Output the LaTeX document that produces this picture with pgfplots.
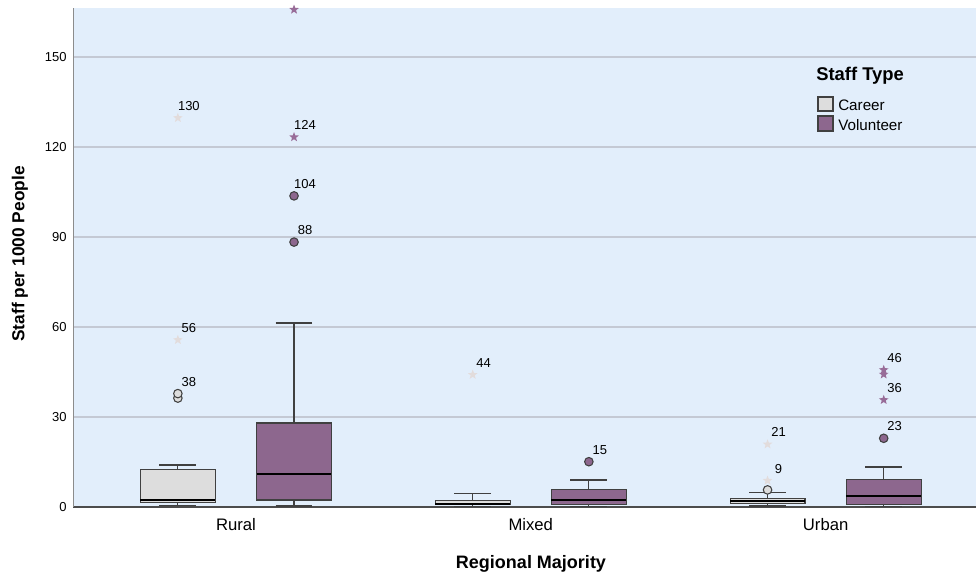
\documentclass[border=0pt]{standalone}
\usepackage{fontspec}
\setmainfont{Liberation Sans}
\usepackage{pgfplots}
\pgfplotsset{compat=1.18}
\usepgfplotslibrary{statistics}
\definecolor{bgblue}{RGB}{226,238,251}
\definecolor{gridcol}{RGB}{196,201,212}
\definecolor{careerfill}{RGB}{221,221,221}
\definecolor{volfill}{RGB}{141,103,142}
\definecolor{edgecol}{RGB}{64,64,64}
\definecolor{careerstar}{RGB}{226,220,220}
\definecolor{volstar}{RGB}{152,108,152}

\pgfdeclareplotmark{fstar}{%
 \pgfpathmoveto{\pgfpointpolar{90}{\pgfplotmarksize}}%
 \pgfpathlineto{\pgfpointpolar{126}{0.42\pgfplotmarksize}}%
 \pgfpathlineto{\pgfpointpolar{162}{\pgfplotmarksize}}%
 \pgfpathlineto{\pgfpointpolar{198}{0.42\pgfplotmarksize}}%
 \pgfpathlineto{\pgfpointpolar{234}{\pgfplotmarksize}}%
 \pgfpathlineto{\pgfpointpolar{270}{0.42\pgfplotmarksize}}%
 \pgfpathlineto{\pgfpointpolar{306}{\pgfplotmarksize}}%
 \pgfpathlineto{\pgfpointpolar{342}{0.42\pgfplotmarksize}}%
 \pgfpathlineto{\pgfpointpolar{18}{\pgfplotmarksize}}%
 \pgfpathlineto{\pgfpointpolar{54}{0.42\pgfplotmarksize}}%
 \pgfpathclose
 \pgfusepathqfill
}

\tikzset{lbl/.style={anchor=base, inner sep=0pt, font=\fontsize{9.75}{11}\selectfont, xshift=8.25pt, yshift=5.6pt}}

\begin{document}
\begin{tikzpicture}
\begin{axis}[name=ax, scale only axis, width=676.875pt, height=374.25pt,
 xmin=-0.551, xmax=2.510, ymin=0, ymax=166.33,
 axis lines*=left,
 xtick={0,1,2}, xticklabels={Rural,Mixed,Urban},
 ytick={0,30,60,90,120,150},
 major tick length=0pt,
 ymajorgrids, major grid style={draw=gridcol, line width=1.1pt},
 axis background/.style={fill=bgblue},
 x axis line style={-, draw=black!70, line width=0.9pt},
 y axis line style={-, draw=black!45, line width=0.9pt},
 /pgf/number format/assume math mode=true,
 yticklabel style={font=\fontsize{9.75}{11}\selectfont, anchor=east, inner sep=0pt, xshift=-5pt},
 xticklabel style={font=\fontsize{12.5}{14}\selectfont, anchor=base, inner sep=0pt, yshift=-18pt},
 boxplot/draw direction=y,
 boxplot/every median/.style={draw=black, line width=1.7pt},
]
% Career boxes
\addplot[boxplot prepared={draw position=-0.197, lower whisker=0.4, lower quartile=1.4, median=2.3, upper quartile=12.6, upper whisker=14, box extend=0.254, whisker extend=0.125}, draw=edgecol, fill=careerfill, line width=0.9pt] coordinates {};
\addplot[boxplot prepared={draw position=0.803, lower whisker=0.2, lower quartile=0.7, median=1.1, upper quartile=2.2, upper whisker=4.4, box extend=0.254, whisker extend=0.125}, draw=edgecol, fill=careerfill, line width=0.9pt] coordinates {};
\addplot[boxplot prepared={draw position=1.803, lower whisker=0.3, lower quartile=1.1, median=1.9, upper quartile=2.8, upper whisker=4.9, box extend=0.254, whisker extend=0.125}, draw=edgecol, fill=careerfill, line width=0.9pt] coordinates {};
% Volunteer boxes
\addplot[boxplot prepared={draw position=0.197, lower whisker=0.3, lower quartile=2.3, median=10.9, upper quartile=28, upper whisker=61.3, box extend=0.254, whisker extend=0.125}, draw=edgecol, fill=volfill, line width=0.9pt] coordinates {};
\addplot[boxplot prepared={draw position=1.197, lower whisker=0.2, lower quartile=0.8, median=2.3, upper quartile=5.7, upper whisker=9.0, box extend=0.254, whisker extend=0.125}, draw=edgecol, fill=volfill, line width=0.9pt] coordinates {};
\addplot[boxplot prepared={draw position=2.197, lower whisker=0.2, lower quartile=0.7, median=3.7, upper quartile=9.2, upper whisker=13.3, box extend=0.254, whisker extend=0.125}, draw=edgecol, fill=volfill, line width=0.9pt] coordinates {};
% outliers
\addplot[only marks, mark=*, mark size=3.2pt, mark options={fill=careerfill, draw=edgecol, line width=0.8pt}] coordinates {(-0.197,36.3) (-0.197,37.8) (1.803,5.7)};
\addplot[only marks, mark=fstar, mark size=3.8pt, color=careerstar] coordinates {(-0.197,55.7) (-0.197,129.7) (0.803,44.1) (1.803,8.8) (1.803,20.9)};
\addplot[only marks, mark=*, mark size=3.2pt, mark options={fill=volfill, draw=edgecol, line width=0.8pt}] coordinates {(0.197,88.3) (0.197,103.7) (1.197,15.1) (2.197,22.9)};
\addplot[only marks, mark=fstar, mark size=3.8pt, color=volstar] coordinates {(0.197,123.3) (0.197,165.8) (2.197,35.7) (2.197,44.2) (2.197,45.7)};
% labels
\node[lbl] at (axis cs:-0.197,37.8) {38};
\node[lbl] at (axis cs:-0.197,55.7) {56};
\node[lbl] at (axis cs:-0.197,129.7) {130};
\node[lbl] at (axis cs:0.197,88.3) {88};
\node[lbl] at (axis cs:0.197,103.7) {104};
\node[lbl] at (axis cs:0.197,123.3) {124};
\node[lbl] at (axis cs:0.803,44.1) {44};
\node[lbl] at (axis cs:1.197,15.1) {15};
\node[lbl] at (axis cs:1.803,8.8) {9};
\node[lbl] at (axis cs:1.803,20.9) {21};
\node[lbl] at (axis cs:2.197,22.9) {23};
\node[lbl] at (axis cs:2.197,35.7) {36};
\node[lbl] at (axis cs:2.197,45.7) {46};
\end{axis}
\begin{scope}[shift={(ax.south west)}, xshift=-55.125pt, yshift=380.25pt, x=0.75pt, y=-0.75pt]
 \node[anchor=base, inner sep=0pt, font=\bfseries\fontsize{13.5}{16}\selectfont] at (531,569) {Regional Majority};
 \node[rotate=90, anchor=center, inner sep=0pt, font=\bfseries\fontsize{13}{16}\selectfont] at (20,254) {Staff per 1000 People};
 \node[anchor=base west, inner sep=0pt, font=\bfseries\fontsize{13.8}{16}\selectfont] at (816,81) {Staff Type};
 \draw[draw=edgecol, fill=careerfill, line width=0.8pt] (818,97) rectangle (833,111);
 \draw[draw=edgecol, fill=volfill, line width=0.8pt] (818,116) rectangle (833,131);
 \node[anchor=base west, inner sep=0pt, font=\fontsize{11.4}{13}\selectfont] at (838,110.5) {Career};
 \node[anchor=base west, inner sep=0pt, font=\fontsize{11.4}{13}\selectfont] at (838,130.5) {Volunteer};
 \pgfresetboundingbox
 \path[use as bounding box] (0,0) rectangle (976,575);
\end{scope}
\end{tikzpicture}
\end{document}
